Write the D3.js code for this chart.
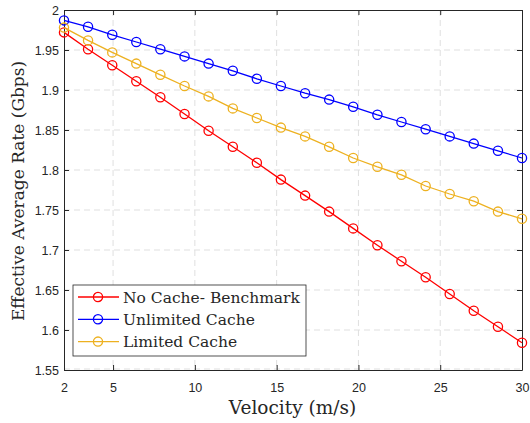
<!DOCTYPE html>
<meta charset="utf-8">
<script src="https://d3js.org/d3.v7.min.js"></script>
<style>
  body { margin: 0; background: #fff; }
  text { fill: #262626; }
</style>
<svg id="chart" width="530" height="423"></svg>
<script>
// velocity values (m/s), 20 samples from 2 to 30
const velocity = [2, 3.47, 4.95, 6.42, 7.89, 9.37, 10.84, 12.32, 13.79, 15.26,
                  16.74, 18.21, 19.68, 21.16, 22.63, 24.11, 25.58, 27.05, 28.53, 30];
const noCache = [1.972, 1.951, 1.931, 1.911, 1.891, 1.870, 1.849, 1.829, 1.809, 1.788,
                 1.768, 1.748, 1.727, 1.706, 1.686, 1.666, 1.645, 1.624, 1.604, 1.584];
const unlimitedCache = [1.987, 1.979, 1.969, 1.960, 1.951, 1.942, 1.933, 1.924, 1.914, 1.905,
                        1.896, 1.888, 1.879, 1.869, 1.860, 1.851, 1.842, 1.833, 1.824, 1.815];
const limitedCache = [1.978, 1.962, 1.947, 1.933, 1.919, 1.905, 1.892, 1.877, 1.865, 1.853,
                      1.842, 1.829, 1.815, 1.804, 1.794, 1.780, 1.770, 1.761, 1.748, 1.739];
const xTicks = [2, 5, 10, 15, 20, 25, 30];
const yTicks = [1.55, 1.6, 1.65, 1.7, 1.75, 1.8, 1.85, 1.9, 1.95, 2];

const series = [
  {name: "No Cache- Benchmark", values: noCache, color: "#ff0000"},
  {name: "Unlimited Cache", values: unlimitedCache, color: "#0000ff"},
  {name: "Limited Cache", values: limitedCache, color: "#edb120"}
];

const serif = "'DejaVu Serif', serif";

const svg = d3.select("#chart");
const margin = {left: 64, right: 8, top: 10, bottom: 53};
const width = 530 - margin.left - margin.right,
      height = 423 - margin.top - margin.bottom;

const x = d3.scaleLinear().domain([2, 30]).range([0, width]);
const y = d3.scaleLinear().domain([1.55, 2]).range([height, 0]);

const g = svg.append("g").attr("transform", `translate(${margin.left},${margin.top})`);

// grid
g.append("g").selectAll("line").data(xTicks.slice(1, -1)).join("line")
  .attr("x1", d => x(d)).attr("x2", d => x(d)).attr("y1", 0).attr("y2", height)
  .attr("stroke", "#dfdfdf").attr("stroke-dasharray", "6,4");
g.append("g").selectAll("line").data(yTicks.slice(1, -1)).join("line")
  .attr("y1", d => y(d)).attr("y2", d => y(d)).attr("x1", 0).attr("x2", width)
  .attr("stroke", "#dfdfdf").attr("stroke-dasharray", "6,4");
// grid at bottom edge too (visible in reference)
g.append("line").attr("x1", 0).attr("x2", width).attr("y1", y(1.55) - 1).attr("y2", y(1.55) - 1)
  .attr("stroke", "#dfdfdf").attr("stroke-dasharray", "6,4");

// axes
const tickFmt = d => d3.format("")(d);
const axisStyle = sel => {
  sel.selectAll("path").attr("stroke", "#262626");
  sel.selectAll("line").attr("stroke", "#262626");
  sel.selectAll("text").style("font-family", "'Liberation Sans', Arial, sans-serif")
    .style("font-size", "12.5px").attr("fill", "#262626");
};
g.append("g").attr("transform", `translate(0,${height})`)
  .call(d3.axisBottom(x).tickValues(xTicks).tickSizeInner(-5).tickSizeOuter(0).tickPadding(13).tickFormat(tickFmt))
  .call(axisStyle);
g.append("g")
  .call(d3.axisLeft(y).tickValues(yTicks).tickSizeInner(-5).tickSizeOuter(0).tickPadding(5).tickFormat(tickFmt))
  .call(axisStyle);
g.append("g")
  .call(d3.axisTop(x).tickValues(xTicks).tickSizeInner(-5).tickSizeOuter(0).tickFormat(""))
  .call(axisStyle);
g.append("g").attr("transform", `translate(${width},0)`)
  .call(d3.axisRight(y).tickValues(yTicks).tickSizeInner(-5).tickSizeOuter(0).tickFormat(""))
  .call(axisStyle);

// lines and markers
const line = d3.line().x((d, i) => x(velocity[i])).y(d => y(d));
series.forEach(s => {
  g.append("path").datum(s.values)
    .attr("fill", "none").attr("stroke", s.color).attr("stroke-width", 1.3)
    .attr("d", line);
  g.append("g").selectAll("circle").data(s.values).join("circle")
    .attr("cx", (d, i) => x(velocity[i])).attr("cy", d => y(d)).attr("r", 4.6)
    .attr("fill", "none").attr("stroke", s.color).attr("stroke-width", 1.3);
});

// legend
const legend = svg.append("g").attr("transform", "translate(73,285)");
legend.append("rect").attr("width", 233).attr("height", 71)
  .attr("fill", "#fff").attr("stroke", "#262626").attr("stroke-width", 0.8);
series.forEach((s, i) => {
  const row = legend.append("g").attr("transform", `translate(0,${12 + i * 22.3})`);
  row.append("line").attr("x1", 5).attr("x2", 46).attr("stroke", s.color).attr("stroke-width", 1.3);
  row.append("circle").attr("cx", 25).attr("r", 4.6).attr("fill", "none")
    .attr("stroke", s.color).attr("stroke-width", 1.3);
  row.append("text").attr("x", 50).attr("y", 5.5).text(s.name)
    .style("font-family", serif).style("font-size", "15.5px").attr("fill", "#000");
});

// axis labels
svg.append("text").attr("x", 292.5).attr("y", 414)
  .attr("text-anchor", "middle").text("Velocity (m/s)")
  .style("font-family", serif).style("font-size", "18.5px");
svg.append("text").attr("transform", "translate(24,191) rotate(-90)")
  .attr("text-anchor", "middle").text("Effective Average Rate (Gbps)")
  .style("font-family", serif).style("font-size", "17px");
</script>
